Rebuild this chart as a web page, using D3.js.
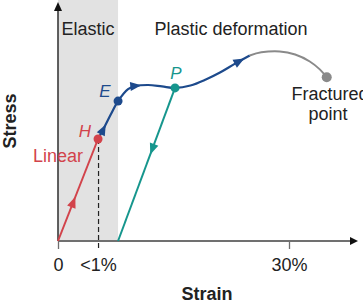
<!DOCTYPE html>
<html><head><meta charset="utf-8">
<script src="https://cdn.jsdelivr.net/npm/d3@7"></script>
<style>
body{margin:0;background:#fff;}
text{font-family:"Liberation Sans",Arial,sans-serif;}
</style></head>
<body><svg id="c" width="363" height="306"></svg>
<script>
// ---- data (strain in arbitrary %-like units, stress in arbitrary units) ----
const tickValues = [0, 5.2, 30];
const tickLabels = ["0", "<1%", "30%"];
const elasticLimit = 7.8;          // end of shaded elastic region
const linearStrain = [0, 5.2];     // origin -> H
const linearStress = [0, 42.5];
const blueStrain = [5.2, 6.0, 6.9, 7.8, 9.1, 10.0, 11.7, 13.5, 15.2, 17.2, 19.2, 21.1, 23.0, 24.9];
const blueStress = [42.5, 47.3, 53.0, 58.3, 63.3, 64.5, 65.0, 64.4, 63.8, 64.8, 67.3, 70.3, 73.9, 77.3];
const grayStrain = [24.9, 26.4, 28.8, 30.8, 32.7, 34.0, 34.9];
const grayStress = [77.3, 78.6, 79.0, 77.7, 74.8, 71.5, 68.2];
const unloadStrain = [15.2, 7.8];  // P -> back to zero stress
const unloadStress = [63.8, 0];
const points = [
  {name:"H", strain:5.2, stress:42.5, color:"#d2434b"},
  {name:"E", strain:7.8, stress:58.3, color:"#1d4a8c"},
  {name:"P", strain:15.2, stress:63.8, color:"#16968d"},
  {name:"F", strain:34.9, stress:68.2, color:"#8a8a8a"}
];

const svg = d3.select("#c");
const x = d3.scaleLinear().domain([0, 30]).range([58, 289]);
const y = d3.scaleLinear().domain([0, 100]).range([241, 1]);
const font = '"Liberation Sans",Arial,sans-serif';

// shaded elastic band
svg.append("rect").attr("x", x(0)).attr("y", 0)
  .attr("width", x(elasticLimit) - x(0)).attr("height", y(0))
  .attr("fill", "#e2e2e2");

// axes
const xAxis = d3.axisBottom(x).tickValues(tickValues)
  .tickFormat((d, i) => tickLabels[i]).tickSize(8).tickPadding(9);
const gx = svg.append("g").attr("transform", `translate(0,${y(0)})`).call(xAxis);
gx.select(".domain").remove();
gx.selectAll(".tick line").attr("stroke", "#6e6e6e").attr("stroke-width", 1.3);
gx.selectAll(".tick text").attr("font-size", 18).attr("font-family", font).attr("fill", "#222");
gx.selectAll(".tick").filter((d, i) => i === 1).select("line")
  .attr("y1", y(linearStress[1]) - y(0)).attr("stroke", "#222")
  .attr("stroke-dasharray", "5,3").attr("stroke-width", 1.2);

svg.append("line").attr("x1", x(0)).attr("x2", 350).attr("y1", y(0)).attr("y2", y(0))
  .attr("stroke", "#707070").attr("stroke-width", 2);
svg.append("path").attr("d", `M350,${y(0)-4}L358,${y(0)}L350,${y(0)+4}Z`).attr("fill", "#111");
svg.append("line").attr("x1", x(0)).attr("x2", x(0)).attr("y1", y(0)).attr("y2", 9)
  .attr("stroke", "#3a3a3a").attr("stroke-width", 1.6);
svg.append("path").attr("d", `M${x(0)-4},11L${x(0)},2L${x(0)+4},11Z`).attr("fill", "#111");

const line = d3.line().x(d => x(d[0])).y(d => y(d[1]));
const curve = d3.line().x(d => x(d[0])).y(d => y(d[1])).curve(d3.curveCatmullRom.alpha(0.5));
const zip = (a, b) => a.map((v, i) => [v, b[i]]);

function arrowAt(pathNode, targetPx, color) {
  const L = pathNode.getTotalLength();
  let best = 0, bd = 1e9;
  for (let l = 0; l <= L; l += 0.5) {
    const p = pathNode.getPointAtLength(l);
    const dd = Math.abs(p.x - targetPx.x) + Math.abs(p.y - targetPx.y);
    if (dd < bd) { bd = dd; best = l; }
  }
  const p = pathNode.getPointAtLength(best);
  const q = pathNode.getPointAtLength(Math.max(0, best - 3));
  const ang = Math.atan2(p.y - q.y, p.x - q.x) * 180 / Math.PI;
  svg.append("path").attr("d", "M0,0L-11,-4.5L-11,4.5Z").attr("fill", color)
    .attr("transform", `translate(${p.x},${p.y}) rotate(${ang})`);
}

// linear segment
const red = svg.append("path").attr("d", line(zip(linearStrain, linearStress)))
  .attr("fill", "none").attr("stroke", "#d2434b").attr("stroke-width", 2);
// unloading line
const teal = svg.append("path").attr("d", line(zip(unloadStrain, unloadStress)))
  .attr("fill", "none").attr("stroke", "#16968d").attr("stroke-width", 2);
// plastic curve
const blue = svg.append("path").attr("d", curve(zip(blueStrain, blueStress)))
  .attr("fill", "none").attr("stroke", "#1d4a8c").attr("stroke-width", 2.2);
const gray = svg.append("path").attr("d", curve(zip(grayStrain, grayStress)))
  .attr("fill", "none").attr("stroke", "#8a8a8a").attr("stroke-width", 2);

arrowAt(red.node(), {x: x(2.2), y: y(18.5)}, "#d2434b");
arrowAt(teal.node(), {x: x(12.2), y: y(36)}, "#16968d");
arrowAt(blue.node(), {x: x(6.2), y: y(48.5)}, "#1d4a8c");
arrowAt(blue.node(), {x: x(10.8), y: y(64.8)}, "#1d4a8c");
arrowAt(blue.node(), {x: x(24.2), y: y(76.2)}, "#1d4a8c");

svg.selectAll("circle.pt").data(points).join("circle").attr("class", "pt")
  .attr("cx", d => x(d.strain)).attr("cy", d => y(d.stress))
  .attr("r", d => d.name === "F" ? 5 : 4.5).attr("fill", d => d.color);

// labels
function label(t, px, py, opt = {}) {
  svg.append("text").attr("x", px).attr("y", py).text(t)
    .attr("text-anchor", opt.anchor || "middle")
    .attr("font-size", opt.size || 18)
    .attr("font-weight", opt.weight || "normal")
    .attr("font-style", opt.style || "normal")
    .attr("fill", opt.color || "#222")
    .attr("transform", opt.transform || null);
}
label("Elastic", 88, 35);
label("Plastic deformation", 231, 35);
label("E", 105, 97, {style: "italic", color: "#1d4a8c", size: 17});
label("H", 85, 137, {style: "italic", color: "#d2434b", size: 17});
label("Linear", 58, 162, {color: "#d2434b"});
label("P", 176, 79, {style: "italic", color: "#16968d", size: 17});
label("Fractured", 330, 100);
label("point", 328, 120);
label("Strain", 207, 300, {size: 18, weight: "bold"});
svg.append("text").text("Stress").attr("transform", "translate(16,121) rotate(-90)")
  .attr("text-anchor", "middle").attr("font-size", 18).attr("font-weight", "bold").attr("fill", "#222");
</script></body></html>
